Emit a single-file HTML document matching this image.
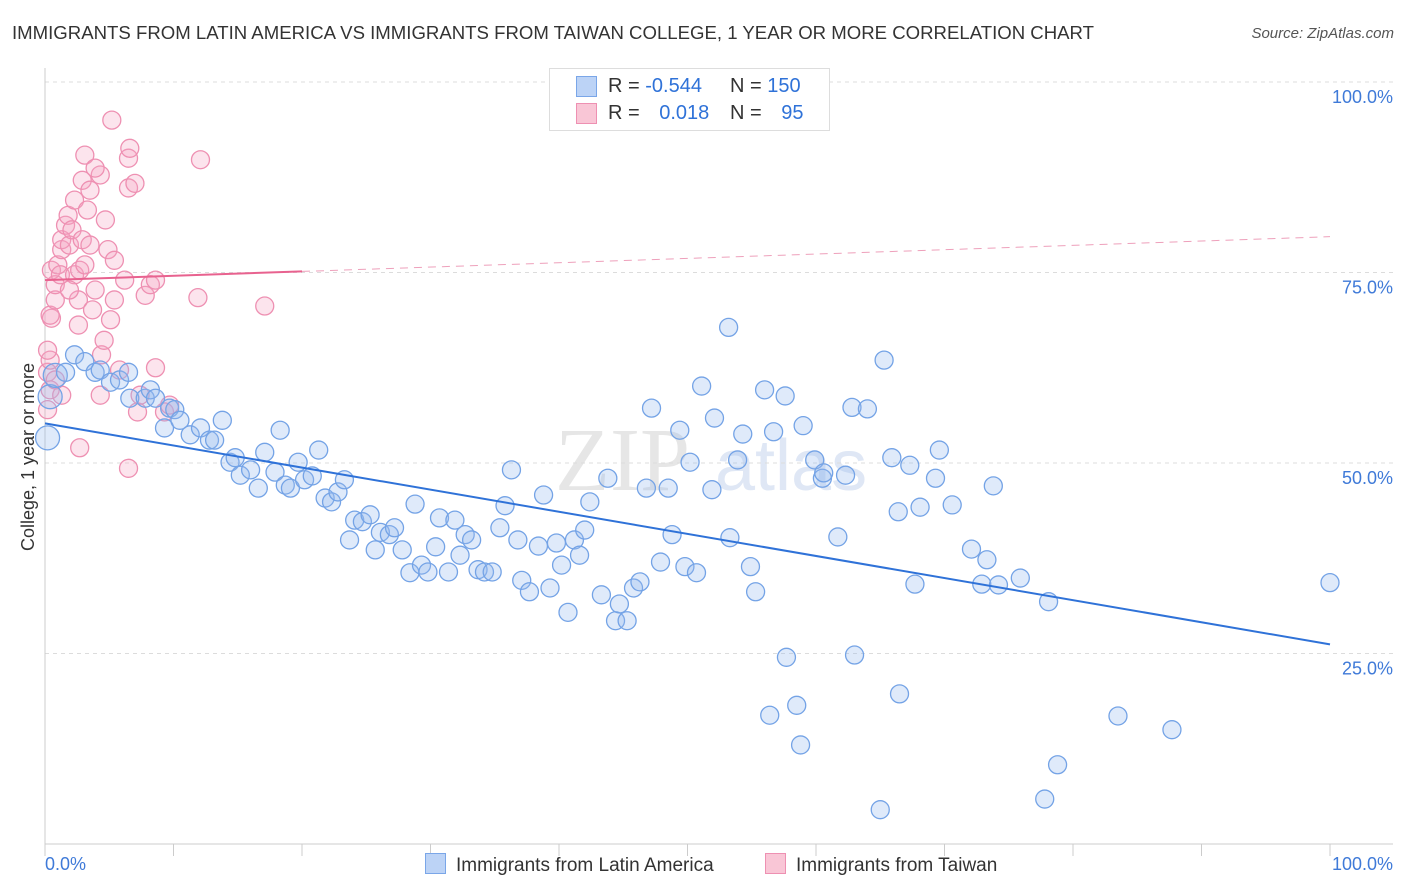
<!DOCTYPE html>
<html><head><meta charset="utf-8"><style>
body{margin:0;background:#fff;font-family:"Liberation Sans",sans-serif;}
#wrap{position:relative;width:1406px;height:892px;overflow:hidden}
.t{position:absolute;white-space:nowrap}
</style></head><body><div id="wrap">
<div class="t" style="left:12px;top:22px;font-size:18.6px;color:#333">IMMIGRANTS FROM LATIN AMERICA VS IMMIGRANTS FROM TAIWAN COLLEGE, 1 YEAR OR MORE CORRELATION CHART</div>
<div class="t" style="right:12px;top:25px;font-size:15px;color:#555;font-style:italic">Source: ZipAtlas.com</div>
<svg id="svg" width="1406" height="892" style="position:absolute;left:0;top:0"></svg>
</div>
<script>
const bx=[0.2,0.4,0.8,1.6,2.3,3.1,3.9,4.3,5.1,5.8,6.5,6.6,7.8,8.2,8.6,9.3,9.7,10.1,10.5,11.3,12.1,12.8,13.2,13.8,14.4,14.8,15.2,16.0,16.6,17.1,17.9,18.3,18.7,19.1,19.7,20.2,20.8,21.3,21.8,22.3,22.8,23.3,23.7,24.1,24.7,25.3,25.7,26.1,26.8,27.2,27.8,28.4,28.8,29.3,29.8,30.4,30.7,31.4,31.9,32.3,32.7,33.2,33.7,34.2,34.8,35.4,35.8,36.3,36.8,37.1,37.7,38.4,38.8,39.3,39.8,40.2,40.7,41.2,41.6,42.0,42.4,43.3,43.8,44.4,44.7,45.3,45.8,46.3,46.8,47.2,47.9,48.5,48.8,49.4,49.8,50.2,50.7,51.1,51.9,52.1,53.2,53.3,53.9,54.3,54.9,55.3,56.0,56.4,56.7,57.6,57.7,58.5,58.8,59.0,59.9,60.5,60.6,61.7,62.3,62.8,63.0,64.0,65.3,65.9,66.4,66.5,67.3,67.7,68.1,69.3,69.6,70.6,72.1,72.9,73.3,74.2,73.8,75.9,77.8,78.1,78.8,83.5,87.7,100,65.0];
const by=[53.3,58.7,61.5,61.9,64.2,63.3,61.9,62.2,60.6,60.9,61.9,58.5,58.5,59.6,58.5,54.6,57.2,57.0,55.6,53.7,54.6,53.0,53.0,55.6,50.1,50.7,48.4,49.1,46.7,51.4,48.8,54.3,47.1,46.7,50.1,47.8,48.3,51.7,45.4,44.9,46.2,47.8,39.9,42.5,42.3,43.2,38.6,40.9,40.6,41.5,38.6,35.6,44.6,36.6,35.7,39.0,42.8,35.7,42.5,37.9,40.6,39.9,36.0,35.7,35.7,41.5,44.4,49.1,39.9,34.6,33.1,39.1,45.8,33.6,39.5,36.6,30.4,39.9,37.9,41.2,44.9,32.7,48.0,29.3,31.5,29.3,33.6,34.4,46.7,57.2,37.0,46.7,40.6,54.3,36.4,50.1,35.6,60.1,46.5,55.9,67.8,40.2,50.4,53.8,36.4,33.1,59.6,16.9,54.1,58.8,24.5,18.2,13.0,54.9,50.4,48.0,48.7,40.3,48.4,57.3,24.8,57.1,63.5,50.7,43.6,19.7,49.7,34.1,44.2,48.0,51.7,44.5,38.7,34.1,37.3,34.0,47.0,34.9,5.9,31.8,10.4,16.8,15.0,34.3,4.5];
const px=[0.2,0.4,0.2,0.4,0.2,0.5,0.4,0.8,0.8,0.5,1.0,1.2,1.3,1.3,1.6,1.8,1.9,2.1,2.3,2.3,2.6,2.6,2.7,2.9,2.9,3.1,3.1,3.3,3.5,3.7,3.9,4.3,4.3,4.4,4.6,4.7,4.9,5.2,5.4,5.4,5.8,6.2,6.5,6.5,6.5,6.6,7.0,7.2,7.4,7.8,8.2,8.6,8.6,9.3,9.7,11.9,12.1,17.1,1.3,2.7,0.8,1.9,3.5,5.1,3.9];
const py=[57.0,59.6,61.9,63.5,64.8,69.0,69.4,71.4,73.4,75.3,76.0,74.7,78.0,79.3,81.2,82.5,78.6,80.6,84.5,74.7,71.4,68.1,75.3,79.3,87.1,90.4,76.0,83.2,85.8,70.1,72.7,87.8,58.9,64.2,66.1,81.9,78.0,95.0,76.6,71.4,62.2,74.0,86.1,49.3,90.0,91.3,86.7,56.7,58.9,72.0,73.4,62.5,74.0,56.7,57.6,71.7,89.8,70.6,58.9,52.0,60.9,72.7,78.6,68.8,88.7];
const blueTrend=[55.2,26.2];
const pinkTrend=[74.0,79.7];
const yTicks=[100,75,50,25];
const yTickLabels=["100.0%","75.0%","50.0%","25.0%"];
const xTicks=[0,10,20,30,40,50,60,70,80,90,100];

const X0=45,X1=1330,Y0=844,Y100=82;
const sx=v=>X0+(X1-X0)*v/100, sy=v=>Y0-(Y0-Y100)*v/100;
const svg=document.getElementById('svg'),NS='http://www.w3.org/2000/svg';
function mk(t,a,p){const e=document.createElementNS(NS,t);for(const k in a)e.setAttribute(k,a[k]);(p||svg).appendChild(e);return e;}
let wm=mk('text',{x:555,y:490,'font-size':90,fill:'#e6e6e6','font-family':'Liberation Serif'});wm.textContent='ZIP';


let wm2=mk('text',{x:715,y:490,'font-size':72,fill:'#dfe7f5','font-family':'Liberation Sans'});wm2.textContent='atlas';


yTicks.forEach((v,i)=>{
 let g=mk('line',{x1:X0,x2:1393,y1:sy(v),y2:sy(v),stroke:'#dcdcdc','stroke-dasharray':'4,4'});
 
 
 let t=mk('text',{x:1393,y:sy(v)+21,'text-anchor':'end','font-size':18,fill:'#3f7ad8'});t.textContent=yTickLabels[i];
 
 
});
let ax=mk('line',{x1:X0,x2:X0,y1:68,y2:Y0,stroke:'#ccc'});


let axx=mk('line',{x1:X0,x2:1393,y1:Y0,y2:Y0,stroke:'#ccc'});


xTicks.forEach(v=>{let l=mk('line',{x1:sx(v),x2:sx(v),y1:Y0,y2:Y0+12,stroke:'#ccc'});
 
 });
let xl=mk('text',{x:45,y:870,'font-size':18,fill:'#3f7ad8'});xl.textContent='0.0%';


let xr=mk('text',{x:1393,y:870,'font-size':18,fill:'#3f7ad8','text-anchor':'end'});xr.textContent='100.0%';


let yt=mk('text',{x:0,y:0,'font-size':18,fill:'#333','text-anchor':'middle',transform:'translate(34,457) rotate(-90)'});yt.textContent='College, 1 year or more';


px.forEach((v,i)=>{let c=mk('circle',{cx:sx(v),cy:sy(py[i]),r:9,fill:'rgba(245,165,195,0.3)',stroke:'#ee90b2','stroke-width':1.3});
 
 });
bx.forEach((v,i)=>{let c=mk('circle',{cx:sx(v),cy:sy(by[i]),r:(i<3?12:9),fill:'rgba(150,185,240,0.3)',stroke:'#74a3e6','stroke-width':1.3});
 
 });
let bl=mk('line',{x1:sx(0),y1:sy(blueTrend[0]),x2:sx(100),y2:sy(blueTrend[1]),stroke:'#2f72d8','stroke-width':2});


const pAt=v=>pinkTrend[0]+(pinkTrend[1]-pinkTrend[0])*v/100;
let pl=mk('line',{x1:sx(0),y1:sy(pAt(0)),x2:sx(20),y2:sy(pAt(20)),stroke:'#e8628f','stroke-width':2});


let pd=mk('line',{x1:sx(20),y1:sy(pAt(20)),x2:sx(100),y2:sy(pAt(100)),stroke:'#eea0bb','stroke-width':1,'stroke-dasharray':'8,6'});


</script>
<div class="t" style="left:549px;top:68px;width:279px;height:61px;border:1px solid #ddd;background:#fff;font-size:20px;color:#333">
 <div style="position:absolute;left:26px;top:7px;width:19px;height:19px;background:#bcd3f6;border:1px solid #7aa6e8"></div>
 <div style="position:absolute;left:58px;top:6px">R = <span style="color:#2f72d8">-0.544</span></div>
 <div style="position:absolute;left:180px;top:6px">N = <span style="color:#2f72d8">150</span></div>
 <div style="position:absolute;left:26px;top:34px;width:19px;height:19px;background:#f9c6d6;border:1px solid #ee90b2"></div>
 <div style="position:absolute;left:58px;top:33px">R = <span style="color:#2f72d8;margin-left:14px">0.018</span></div>
 <div style="position:absolute;left:180px;top:33px">N = <span style="color:#2f72d8;margin-left:14px">95</span></div>
</div>
<div class="t" style="left:425px;top:853px;font-size:19px;color:#333"><span style="display:inline-block;width:19px;height:19px;background:#bcd3f6;border:1px solid #7aa6e8;vertical-align:-3px;margin-right:10px"></span>Immigrants from Latin America</div>
<div class="t" style="left:765px;top:853px;font-size:19px;color:#333"><span style="display:inline-block;width:19px;height:19px;background:#f9c6d6;border:1px solid #ee90b2;vertical-align:-3px;margin-right:10px"></span>Immigrants from Taiwan</div>
</body></html>
